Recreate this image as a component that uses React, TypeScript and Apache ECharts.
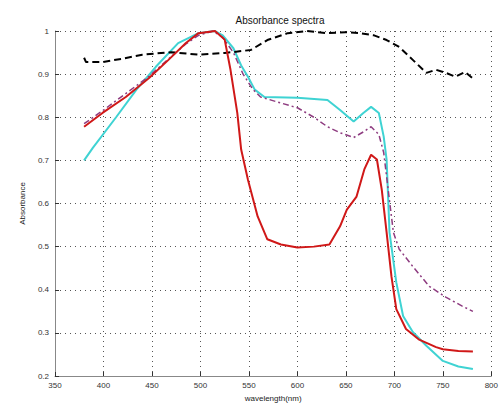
import React, { useEffect, useRef } from "react";
import * as echarts from "echarts";

const xTicks = [350, 400, 450, 500, 550, 600, 650, 700, 750, 800];
const yTicks = [0.2, 0.3, 0.4, 0.5, 0.6, 0.7, 0.8, 0.9, 1];

const blackX = [380, 382, 399, 420, 440, 470, 498, 525, 552, 569, 590, 610, 631, 650, 664, 679, 692, 705, 719, 733, 743, 753, 763, 773, 781];
const blackY = [0.938, 0.928, 0.928, 0.936, 0.945, 0.951, 0.945, 0.949, 0.956, 0.979, 0.995, 1.0, 0.995, 0.997, 0.995, 0.99, 0.979, 0.963, 0.933, 0.903, 0.91, 0.903, 0.894, 0.905, 0.89];

const redX = [380, 399, 423, 447, 467, 485, 498, 515, 525, 531, 538, 542, 549, 559, 569, 583, 600, 617, 633, 644, 651, 661, 669, 676, 682, 687, 692, 697, 702, 712, 725, 743, 750, 766, 781];
const redY = [0.778, 0.81, 0.847, 0.891, 0.933, 0.972, 0.995, 1.0, 0.98, 0.91, 0.81, 0.725, 0.655, 0.57, 0.517, 0.505, 0.498, 0.5, 0.505, 0.547, 0.586, 0.616, 0.679, 0.713, 0.702, 0.632, 0.533, 0.431, 0.355, 0.309, 0.285, 0.267, 0.262, 0.258, 0.257];

const cyanX = [380, 389, 413, 434, 454, 477, 498, 515, 523, 534, 542, 549, 556, 566, 600, 631, 644, 658, 668, 676, 684, 689, 692, 695, 702, 709, 719, 733, 750, 766, 781];
const cyanY = [0.7, 0.729, 0.8, 0.864, 0.917, 0.972, 0.995, 1.0, 0.99, 0.96, 0.92, 0.894, 0.864, 0.847, 0.845, 0.84, 0.817, 0.79, 0.81, 0.824, 0.81, 0.755, 0.702, 0.533, 0.417, 0.339, 0.302, 0.27, 0.235, 0.222, 0.216];

const magentaX = [380, 399, 423, 447, 467, 485, 498, 513, 523, 534, 544, 554, 562, 583, 600, 617, 631, 644, 658, 668, 676, 684, 689, 694, 699, 705, 719, 736, 753, 770, 781];
const magentaY = [0.785, 0.815, 0.855, 0.895, 0.935, 0.97, 0.99, 1.0, 0.985, 0.95, 0.9, 0.865, 0.847, 0.833, 0.822, 0.8, 0.778, 0.764, 0.753, 0.766, 0.778, 0.76, 0.718, 0.625, 0.533, 0.494, 0.454, 0.408, 0.383, 0.362, 0.35];

const zip = (xs: number[], ys: number[]) => xs.map((x, i) => [x, ys[i]]);

export default function App() {
  const ref = useRef<HTMLDivElement>(null);
  useEffect(() => {
    if (!ref.current) return;
    const chart = echarts.init(ref.current, null, { renderer: "svg" });
    const font = "Liberation Sans, Arial, sans-serif";
    chart.setOption({
      animation: false,
      backgroundColor: "#ffffff",
      title: {
        text: "Absorbance spectra",
        left: 275,
        top: 10,
        textAlign: "center",
        textStyle: { fontSize: 10, fontWeight: "normal", color: "#111", fontFamily: font },
      },
      grid: { left: 55, right: 5, top: 31, bottom: 30, containLabel: false },
      xAxis: {
        type: "value",
        min: xTicks[0],
        max: xTicks[xTicks.length - 1],
        interval: 50,
        name: "wavelength(nm)",
        nameLocation: "middle",
        nameGap: 18,
        nameTextStyle: { fontSize: 8, color: "#222", fontFamily: font },
        axisLine: { show: true, lineStyle: { color: "#888", width: 1 } },
        axisTick: { show: true, inside: true, length: 4, lineStyle: { color: "#333" } },
        axisLabel: { fontSize: 8, color: "#333", margin: 5, fontFamily: font },
        splitLine: { show: true, lineStyle: { color: "#555", type: [1, 4], width: 1 } },
      },
      yAxis: {
        type: "value",
        min: yTicks[0],
        max: yTicks[yTicks.length - 1],
        interval: 0.1,
        name: "Absorbance",
        nameLocation: "middle",
        nameGap: 28,
        nameRotate: 90,
        nameTextStyle: { fontSize: 8, color: "#222", fontFamily: font },
        axisLine: { show: true, lineStyle: { color: "#888", width: 1 } },
        axisTick: { show: true, inside: true, length: 4, lineStyle: { color: "#333" } },
        axisLabel: {
          fontSize: 8,
          color: "#333",
          margin: 6,
          fontFamily: font,
          formatter: (v: number) => String(Math.round(v * 10) / 10),
        },
        splitLine: { show: true, lineStyle: { color: "#555", type: [1, 4], width: 1 } },
      },
      series: [
        {
          type: "line",
          data: zip(blackX, blackY),
          showSymbol: false,
          lineStyle: { color: "#000", width: 2, type: [7, 4] },
          z: 5,
        },
        {
          type: "line",
          data: zip(cyanX, cyanY),
          showSymbol: false,
          lineStyle: { color: "#3fd3d3", width: 2 },
          z: 3,
        },
        {
          type: "line",
          data: zip(magentaX, magentaY),
          showSymbol: false,
          lineStyle: { color: "#8e3c80", width: 1.5, type: [6, 3, 2, 3] },
          z: 4,
        },
        {
          type: "line",
          data: zip(redX, redY),
          showSymbol: false,
          lineStyle: { color: "#d01818", width: 2 },
          z: 6,
        },
      ],
    });
    return () => chart.dispose();
  }, []);
  return (
    <div
      ref={ref}
      style={{ position: "absolute", left: 0, top: 0, width: 501, height: 407 }}
    />
  );
}
